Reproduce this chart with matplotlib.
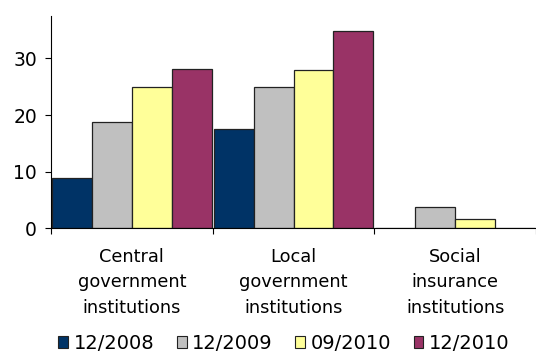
import matplotlib.pyplot as plt
import numpy as np
from matplotlib.patches import Patch

categories = ["Central\ngovernment\ninstitutions",
              "Local\ngovernment\ninstitutions",
              "Social\ninsurance\ninstitutions"]
series = ["12/2008", "12/2009", "09/2010", "12/2010"]
v_2008_12 = [8.8, 17.6, 0.0]
v_2009_12 = [18.8, 25.0, 3.8]
v_2010_09 = [25.0, 27.9, 1.6]
v_2010_12 = [28.2, 34.8, 0.0]
colors = ['#003366', '#C0C0C0', '#FFFF99', '#993366']

values = [v_2008_12, v_2009_12, v_2010_09, v_2010_12]

plt.rcParams['font.family'] = ['DejaVu Sans']

fig = plt.figure(figsize=(5.36, 3.54), dpi=100)
ax = fig.add_axes([51 / 536, 0.355, 1 - 51 / 536, 0.60])

x = np.arange(len(categories))
w = 0.247
for i, (name, vals) in enumerate(zip(series, values)):
    ax.bar(x + (i - 1.5) * w, vals, width=w, color=colors[i],
           edgecolor='#222222', linewidth=0.9, label=name)

ax.set_xlim(-0.5, 2.5)
ax.set_ylim(0, 37.5)
ax.set_yticks([0, 10, 20, 30])
ax.tick_params(axis='y', labelsize=13.5, length=4, direction='out', pad=6)

# boundary ticks without labels, category labels at centers
ax.set_xticks([-0.5, 0.5, 1.5, 2.5])
ax.set_xticklabels([])
ax.set_xticks(x, minor=True)
ax.set_xticklabels(categories, minor=True, fontsize=12.8, linespacing=1.55)
ax.tick_params(axis='x', which='major', length=4, direction='out')
ax.tick_params(axis='x', which='minor', length=0, pad=14)

ax.spines['top'].set_visible(False)
ax.spines['right'].set_visible(False)

handles = [Patch(facecolor=c, edgecolor='#222222', linewidth=0.8, label=s)
           for c, s in zip(colors, series)]
fig.legend(handles=handles, loc='center', bbox_to_anchor=(0.53, 0.03),
           ncol=4, frameon=False, fontsize=14, handlelength=0.5,
           handleheight=0.5, handletextpad=0.3, columnspacing=1.15,
           borderaxespad=0)

fig.savefig('out.png', dpi=100)
plt.close(fig)
